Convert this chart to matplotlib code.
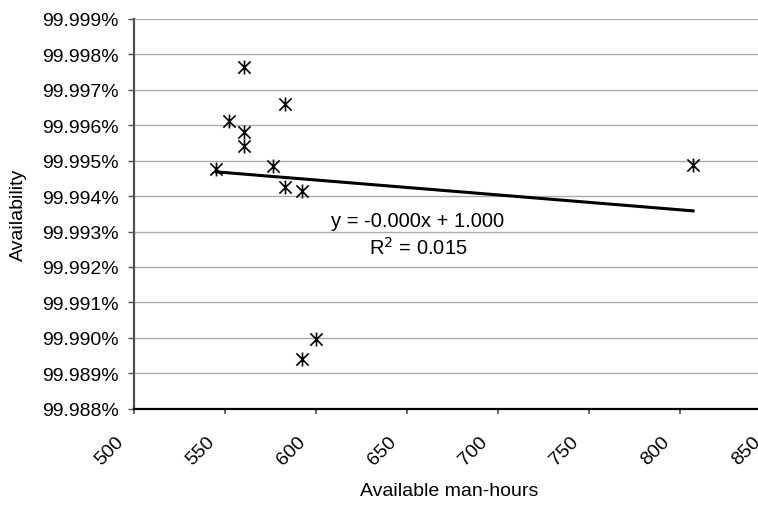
import numpy as np
import matplotlib
matplotlib.use("Agg")
import matplotlib.pyplot as plt
from matplotlib.path import Path
from matplotlib.ticker import FuncFormatter, MultipleLocator
import matplotlib.transforms as mtransforms

plt.rcParams['font.family'] = ['Liberation Sans', 'DejaVu Sans']

# data
man_hours = [560, 583, 552, 560, 560, 545, 576, 583, 592, 600, 592, 807]
availability = [99.99764, 99.99659, 99.99612, 99.99580, 99.99542, 99.99476,
                99.99486, 99.99425, 99.99415, 99.98996, 99.98940, 99.99488]
eq_label = 'y = -0.000x + 1.000'
r2_label = 'R$^2$ = 0.015'

# excel style asterisk: vertical bar plus an X
a = 0.88
star = Path([(0, -1), (0, 1), (-a, -a), (a, a), (-a, a), (a, -a)],
            [Path.MOVETO, Path.LINETO, Path.MOVETO, Path.LINETO, Path.MOVETO, Path.LINETO])

fig = plt.figure(figsize=(7.58, 5.06), dpi=100)
ax = fig.add_axes([0.1772, 0.1903, 0.8404, 0.7702])

ax.plot(man_hours, availability, linestyle='none', marker=star, markersize=10,
        markeredgecolor='black', markerfacecolor='none', markeredgewidth=1.2, zorder=3)

# linear trendline
x = np.array(man_hours, dtype=float)
y = np.array(availability)
k, b = np.polyfit(x, y, 1)
xs = np.array([x.min(), x.max()])
ax.plot(xs, k * xs + b, color='black', linewidth=2.2, zorder=2)

ax.text(0.4454, 0.484, eq_label, transform=ax.transAxes, ha='center', va='center', fontsize=14.5)
ax.text(0.4454, 0.415, r2_label, transform=ax.transAxes, ha='center', va='center', fontsize=14.5)

ax.set_xlim(500, 850)
ax.set_ylim(99.988, 99.999)
ax.xaxis.set_major_locator(MultipleLocator(50))
ax.yaxis.set_major_locator(MultipleLocator(0.001))
ax.yaxis.set_major_formatter(FuncFormatter(lambda v, p: '%.3f%%' % v))
ax.grid(axis='y', color='#ababab', linewidth=1.0)
ax.set_axisbelow(True)

for s in ['top', 'right']:
    ax.spines[s].set_visible(False)
ax.spines['left'].set_color('#505050')
ax.spines['left'].set_linewidth(1.6)
ax.spines['bottom'].set_color('black')
ax.spines['bottom'].set_linewidth(1.6)

ax.tick_params(axis='y', direction='out', length=4.3, width=1, color='#505050', pad=7, labelsize=14)
ax.tick_params(axis='x', direction='out', length=3.6, width=1.2, color='#505050', pad=18, labelsize=14)
shift = mtransforms.ScaledTranslation(-0.13, 0, fig.dpi_scale_trans)
for lab in ax.get_xticklabels():
    lab.set_rotation(45)
    lab.set_ha('right')
    lab.set_va('center')
    lab.set_rotation_mode('anchor')
    lab.set_transform(lab.get_transform() + shift)

ax.set_xlabel('Available man-hours', fontsize=14, va='center')
ax.set_ylabel('Availability', fontsize=14, va='center', ha='center')
ax.xaxis.set_label_coords((449 - 134.3) / 637, (409.7 - 491) / 389.7)
ax.yaxis.set_label_coords((18 - 134.3) / 637, 0.5)

fig.savefig('out.png', dpi=100)
